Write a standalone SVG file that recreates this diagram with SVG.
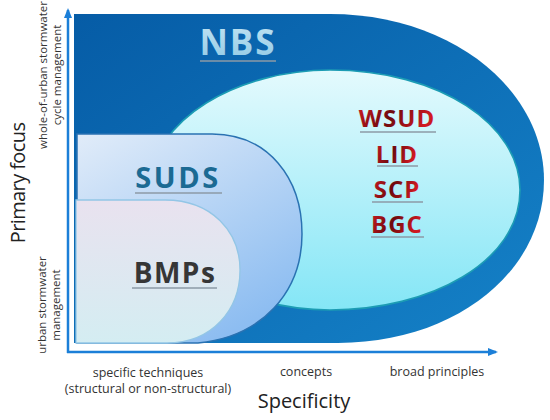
<svg xmlns="http://www.w3.org/2000/svg" width="550" height="420" viewBox="0 0 550 420">
<defs>
<linearGradient id="gNbs" x1="0" y1="0" x2="1" y2="1"><stop offset="0" stop-color="#065ca6"/><stop offset="1" stop-color="#1582c8"/></linearGradient>
<linearGradient id="gCyan" x1="0" y1="0" x2="0" y2="1"><stop offset="0" stop-color="#e4fafd"/><stop offset="1" stop-color="#84e6f6"/></linearGradient>
<linearGradient id="gSuds" x1="0" y1="0" x2="0.6" y2="1"><stop offset="0" stop-color="#e1ecf9"/><stop offset="1" stop-color="#8dbdf1"/></linearGradient>
<linearGradient id="gBmp" x1="0" y1="0" x2="0" y2="1"><stop offset="0" stop-color="#e9e2ef"/><stop offset="1" stop-color="#d4edf2"/></linearGradient>
<linearGradient id="gRed" x1="0" y1="0" x2="1" y2="0.3" spreadMethod="reflect"><stop offset="0" stop-color="#d21a22"/><stop offset="0.5" stop-color="#6e0a0e"/><stop offset="1" stop-color="#d21a22"/></linearGradient>
<linearGradient id="gNbsText" x1="0" y1="0" x2="0" y2="1"><stop offset="0" stop-color="#c4e6f4"/><stop offset="1" stop-color="#8fc8e4"/></linearGradient>
<marker id="arr" viewBox="0 0 10 10" refX="8" refY="5" markerWidth="4" markerHeight="4" orient="auto"><path d="M0,1 L10,5 L0,9 Z" fill="#1b7fd8"/></marker>
</defs>
<style>
.axis{stroke:#1b7fd8;stroke-width:2.5;fill:none}
.t{font-family:"Open Sans","Noto Sans","Liberation Sans",sans-serif;text-anchor:middle}
.title{font-weight:bold}
.small{font-size:11.5px;fill:#333}
.tick{font-size:12.5px;fill:#333}
.big{font-size:20px;fill:#222}
.ul{stroke:#8c9aa6;stroke-width:1.3}
.red{font-size:24px;fill:url(#gRed);letter-spacing:1px}
</style>

<g id="connectors">
<line class="axis" x1="68" y1="353" x2="68" y2="10" marker-end="url(#arr)"/>
<line class="axis" x1="67" y1="352" x2="496" y2="352" marker-end="url(#arr)"/>
</g>

<g id="nbs">
<path d="M74,14 H330 C452,14 544,90 544,180 C544,272 455,343 338,343 H74 Z" fill="url(#gNbs)"/>
<text class="t title" x="238" y="55" font-size="35" fill="url(#gNbsText)" letter-spacing="2">NBS</text>
<line class="ul" x1="200" y1="61" x2="276" y2="61" stroke="#7fb6d6"/>
</g>

<g id="wsud">
<path d="M150,190 C150,118 240,70 330,70 C440,70 520,125 520,190 C520,262 430,310 330,310 C240,310 150,262 150,190 Z" fill="url(#gCyan)" stroke="#1c9cb4" stroke-width="1.6"/>
<text class="t title red" x="397" y="127">WSUD</text>
<line class="ul" x1="360" y1="132" x2="436" y2="132"/>
<text class="t title red" x="397" y="163">LID</text>
<line class="ul" x1="377" y1="166" x2="418" y2="166"/>
<text class="t title red" x="397" y="198">SCP</text>
<line class="ul" x1="372" y1="202" x2="423" y2="202"/>
<text class="t title red" x="397" y="233">BGC</text>
<line class="ul" x1="371" y1="237" x2="424" y2="237"/>
</g>

<g id="suds">
<path d="M77,134 H212 C268,134 302,178 302,234 C302,292 262,337 198,343 H77 Z" fill="url(#gSuds)" stroke="#2a72b2" stroke-width="1.5"/>
<text class="t title" x="178" y="188" font-size="29" fill="#1b6a93" letter-spacing="2.5">SUDS</text>
<line class="ul" x1="135" y1="193" x2="222" y2="193"/>
</g>

<g id="bmps">
<path d="M76,200 H165 C212,200 240,232 240,270 C240,310 212,343 167,343 H76 Z" fill="url(#gBmp)" stroke="#93c6e6" stroke-width="1.3"/>
<text class="t title" x="175" y="283" font-size="28" fill="#363636" letter-spacing="1.5">BMPs</text>
<line class="ul" x1="132" y1="288" x2="217" y2="288"/>
</g>

<g id="labels">
<text class="t big" transform="translate(25,183) rotate(-90)" letter-spacing="-0.6">Primary focus</text>
<text class="t small" transform="translate(47,75) rotate(-90)">whole-of-urban stormwater</text>
<text class="t small" transform="translate(61,75) rotate(-90)">cycle management</text>
<text class="t small" transform="translate(46,305) rotate(-90)">urban stormwater</text>
<text class="t small" transform="translate(60,305) rotate(-90)">management</text>
<text class="t tick" x="148" y="377">specific techniques</text>
<text class="t tick" x="148" y="393">(structural or non-structural)</text>
<text class="t tick" x="306" y="376">concepts</text>
<text class="t tick" x="437" y="376">broad principles</text>
<text class="t big" x="304" y="408">Specificity</text>
</g>
</svg>
